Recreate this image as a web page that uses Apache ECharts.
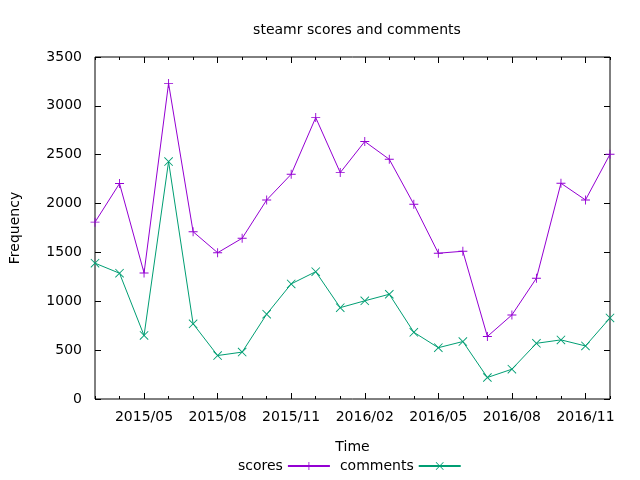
<!DOCTYPE html>
<html>
<head>
<meta charset="utf-8">
<script src="https://cdn.jsdelivr.net/npm/echarts@6/dist/echarts.min.js"></script>
<style>
  html, body { margin: 0; padding: 0; background: #fff; }
  #main { width: 640px; height: 480px; }
</style>
</head>
<body>
<div id="main"></div>
<script>
// months, 2015/03 .. 2016/12
var months = [
  '2015/03', '2015/04', '2015/05', '2015/06', '2015/07', '2015/08',
  '2015/09', '2015/10', '2015/11', '2015/12', '2016/01', '2016/02',
  '2016/03', '2016/04', '2016/05', '2016/06', '2016/07', '2016/08',
  '2016/09', '2016/10', '2016/11', '2016/12'
];
var scores = [
  1810, 2205, 1290, 3230, 1712, 1497, 1645, 2037, 2300, 2880, 2317,
  2635, 2453, 1993, 1492, 1512, 640, 860, 1236, 2208, 2037, 2505
];
var comments = [
  1390, 1287, 650, 2430, 770, 445, 480, 868, 1178, 1303, 935,
  1005, 1072, 683, 525, 588, 220, 305, 570, 605, 543, 830
];

var FONT = 'DejaVu Sans';
var PLUS = 'path://M0,4.5H10V5.5H0ZM4.5,0H5.5V10H4.5Z';
var CROSS = 'path://M0,0.7L0.7,0L10,9.3L9.3,10ZM9.3,0L10,0.7L0.7,10L0,9.3Z';

function isMajor(i) { return i % 3 === 2; }

function tickAxis(pos, major) {
  return {
    type: 'category',
    position: pos,
    data: months,
    boundaryGap: false,
    axisLine: { show: false },
    axisLabel: { show: false },
    splitLine: { show: false },
    axisTick: {
      show: true,
      inside: true,
      length: major ? 6 : 3,
      interval: major ? function (i) { return isMajor(i); } : 0,
      lineStyle: { color: '#000', width: 1 }
    }
  };
}

var chart = echarts.init(document.getElementById('main'));

var option = {
  backgroundColor: '#fff',
  textStyle: { fontFamily: FONT },
  animation: false,
  title: {
    text: 'steamr scores and comments',
    left: 352,
    textAlign: 'center',
    top: 18,
    textStyle: { fontFamily: FONT, fontSize: 14, fontWeight: 'normal', color: '#000' }
  },
  legend: {
    left: 233,
    top: 454,
    align: 'right',
    itemWidth: 42,
    itemHeight: 10,
    itemGap: 9,
    textStyle: { fontFamily: FONT, fontSize: 14, color: '#000' },
    data: ['scores', 'comments']
  },
  grid: {
    left: 94, right: 30, top: 57, bottom: 81,
    show: true,
    borderColor: '#000',
    borderWidth: 1,
    containLabel: false
  },
  xAxis: [
    {
      type: 'category',
      position: 'bottom',
      data: months,
      boundaryGap: false,
      name: 'Time',
      nameLocation: 'middle',
      nameGap: 41,
      nameTextStyle: { fontFamily: FONT, fontSize: 14, color: '#000' },
      axisLine: { show: false },
      axisTick: {
        show: true, inside: true, length: 3, interval: 0,
        lineStyle: { color: '#000' }
      },
      axisLabel: {
        show: true,
        interval: function (i) { return isMajor(i); },
        margin: 11,
        fontFamily: FONT,
        fontSize: 14,
        color: '#000'
      },
      splitLine: { show: false }
    },
    tickAxis('bottom', true),
    tickAxis('top', false),
    tickAxis('top', true)
  ],
  yAxis: [
    {
      type: 'value',
      position: 'left',
      min: 0,
      max: 3500,
      interval: 500,
      name: 'Frequency',
      nameLocation: 'middle',
      nameGap: 73,
      nameTextStyle: { fontFamily: FONT, fontSize: 14, color: '#000' },
      axisLine: { show: false },
      axisTick: { show: true, inside: true, length: 6, lineStyle: { color: '#000' } },
      axisLabel: {
        margin: 13, fontFamily: FONT, fontSize: 14, color: '#000',
        formatter: function (v) { return String(v); }
      },
      splitLine: { show: false }
    },
    {
      type: 'value',
      position: 'right',
      min: 0,
      max: 3500,
      interval: 500,
      axisLine: { show: false },
      axisTick: { show: true, inside: true, length: 6, lineStyle: { color: '#000' } },
      axisLabel: { show: false },
      splitLine: { show: false }
    }
  ],
  series: [
    {
      name: 'scores',
      type: 'line',
      data: scores,
      symbol: PLUS,
      symbolSize: 9,
      showAllSymbol: true,
      color: '#9400d3',
      lineStyle: { width: 1, color: '#9400d3' },
      itemStyle: { color: '#9400d3' }
    },
    {
      name: 'comments',
      type: 'line',
      data: comments,
      symbol: CROSS,
      symbolSize: 9,
      showAllSymbol: true,
      color: '#009e73',
      lineStyle: { width: 1, color: '#009e73' },
      itemStyle: { color: '#009e73' }
    }
  ]
};

chart.setOption(option);
</script>
</body>
</html>
